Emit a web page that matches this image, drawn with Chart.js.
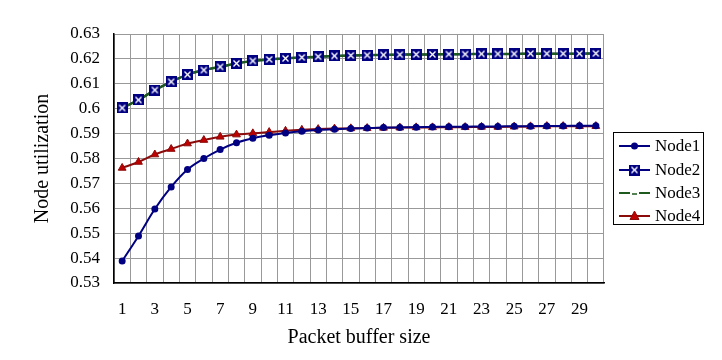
<!DOCTYPE html>
<html>
<head>
<meta charset="utf-8">
<script src="https://cdn.jsdelivr.net/npm/chart.js@4/dist/chart.umd.min.js"></script>
<style>
  html, body { margin: 0; padding: 0; background: #fff; }
  #wrap { width: 722px; height: 360px; position: relative; }
</style>
</head>
<body>
<div id="wrap"><canvas id="chart" width="722" height="360"></canvas></div>
<script>
// ---- data ----
const bufferSizes = Array.from({ length: 30 }, (_, i) => String(i + 1));

const node1 = [0.5388, 0.5489, 0.5597, 0.5686, 0.5756, 0.5800, 0.5836, 0.5863, 0.5881, 0.5893,
               0.5902, 0.5909, 0.5914, 0.5917, 0.5920, 0.5922, 0.5924, 0.5925, 0.5926, 0.5927,
               0.5928, 0.5928, 0.5929, 0.5929, 0.5930, 0.5930, 0.5931, 0.5931, 0.5932, 0.5932];
const node2 = [0.6003, 0.6035, 0.6075, 0.6108, 0.6137, 0.6155, 0.6168, 0.6182, 0.6192, 0.6198,
               0.6202, 0.6206, 0.6209, 0.6212, 0.6214, 0.6215, 0.6216, 0.6217, 0.6218, 0.6218,
               0.6219, 0.6219, 0.6220, 0.6220, 0.6220, 0.6221, 0.6221, 0.6221, 0.6221, 0.6222];
const node3 = [0.6003, 0.6035, 0.6075, 0.6108, 0.6137, 0.6155, 0.6168, 0.6182, 0.6192, 0.6198,
               0.6202, 0.6206, 0.6209, 0.6212, 0.6214, 0.6215, 0.6216, 0.6217, 0.6218, 0.6218,
               0.6219, 0.6219, 0.6220, 0.6220, 0.6220, 0.6221, 0.6221, 0.6221, 0.6221, 0.6222];
const node4 = [0.5762, 0.5786, 0.5816, 0.5838, 0.5860, 0.5874, 0.5887, 0.5896, 0.5901, 0.5906,
               0.5911, 0.5915, 0.5918, 0.5920, 0.5921, 0.5922, 0.5923, 0.5924, 0.5925, 0.5925,
               0.5926, 0.5926, 0.5927, 0.5927, 0.5928, 0.5929, 0.5930, 0.5930, 0.5930, 0.5930];

const yMin = 0.53, yMax = 0.63, yStep = 0.01;

const FONT = "'Liberation Serif', 'DejaVu Serif', serif";
const NAVY = "#000080";
const GREEN = "#1e5a1e";
const DARKRED = "#8b0a0a";
const RED = "#c00000";

// navy square with a white cross, like the Excel marker
function boxMarker(size) {
  const c = document.createElement("canvas");
  c.width = c.height = size;
  const g = c.getContext("2d");
  g.fillStyle = NAVY;
  g.fillRect(0, 0, size, size);
  g.strokeStyle = "#fff";
  g.lineWidth = 1.4;
  g.beginPath();
  g.moveTo(2.5, 2.5); g.lineTo(size - 2.5, size - 2.5);
  g.moveTo(size - 2.5, 2.5); g.lineTo(2.5, size - 2.5);
  g.stroke();
  return c;
}
const squareX = boxMarker(11);

// Node2 markers sit on top of the Node3 line
const redrawMarkers = {
  id: "redrawMarkers",
  afterDatasetsDraw(chart) {
    const meta = chart.getDatasetMeta(1);
    meta.data.forEach(pt => pt.draw(chart.ctx, chart.chartArea));
  },
};

// boxed legend at the right, like the original
const boxLegend = {
  id: "boxLegend",
  afterDraw(chart) {
    const ctx = chart.ctx;
    const x0 = 613, y0 = 132, w = 90, h = 92;
    ctx.save();
    ctx.strokeStyle = "#000";
    ctx.lineWidth = 1;
    ctx.strokeRect(x0 + 0.5, y0 + 0.5, w, h);
    const rows = [146, 170, 193, 216];
    chart.data.datasets.forEach((ds, i) => {
      const y = rows[i];
      ctx.strokeStyle = ds.borderColor;
      ctx.lineWidth = 2;
      if (i === 2) {
        ctx.beginPath();
        ctx.moveTo(619, y); ctx.lineTo(630, y);
        ctx.moveTo(639, y); ctx.lineTo(650, y);
        ctx.stroke();
        ctx.lineWidth = 1.5;
        ctx.beginPath();
        ctx.moveTo(632, y + 1); ctx.lineTo(637, y + 1);
        ctx.stroke();
      } else {
        ctx.beginPath();
        ctx.moveTo(619, y); ctx.lineTo(650, y);
        ctx.stroke();
      }
      const cx = 634.5;
      if (i === 0) {
        ctx.fillStyle = NAVY;
        ctx.beginPath(); ctx.arc(cx, y, 3.5, 0, Math.PI * 2); ctx.fill();
      } else if (i === 1) {
        ctx.drawImage(squareX, cx - 5.5, y - 5.5);
      } else if (i === 3) {
        ctx.fillStyle = RED;
        ctx.strokeStyle = DARKRED;
        ctx.lineWidth = 1;
        ctx.beginPath();
        ctx.moveTo(cx, y - 5); ctx.lineTo(cx + 4.5, y + 3.5); ctx.lineTo(cx - 4.5, y + 3.5);
        ctx.closePath(); ctx.fill(); ctx.stroke();
      }
      ctx.fillStyle = "#000";
      ctx.font = "17px " + FONT;
      ctx.textBaseline = "middle";
      ctx.textAlign = "left";
      ctx.fillText(ds.label, 655, y + 1);
    });
    ctx.restore();
  },
};

new Chart(document.getElementById("chart"), {
  type: "line",
  data: {
    labels: bufferSizes,
    datasets: [
      {
        label: "Node1", data: node1, order: 0, borderColor: NAVY, backgroundColor: NAVY,
        borderWidth: 2, pointStyle: "circle", pointRadius: 3.5, pointBorderWidth: 0,
        tension: 0.3, cubicInterpolationMode: "monotone",
      },
      {
        label: "Node2", data: node2, order: 2, borderColor: NAVY, backgroundColor: NAVY,
        borderWidth: 2, pointStyle: squareX, pointRadius: 5.5,
        tension: 0.3, cubicInterpolationMode: "monotone",
      },
      {
        label: "Node3", data: node3, order: 1, borderColor: GREEN, backgroundColor: GREEN,
        borderWidth: 2.5, pointRadius: 0,
        tension: 0.3, cubicInterpolationMode: "monotone",
      },
      {
        label: "Node4", data: node4, order: 3, borderColor: DARKRED, backgroundColor: RED,
        borderWidth: 2, pointStyle: "triangle", pointRadius: 4.5, pointBorderWidth: 1,
        pointBorderColor: DARKRED,
        tension: 0.3, cubicInterpolationMode: "monotone",
      },
    ],
  },
  options: {
    responsive: false,
    animation: false,
    layout: { padding: { left: 0, right: 118, top: 34, bottom: 0 } },
    plugins: {
      legend: { display: false },
      tooltip: { enabled: false },
    },
    scales: {
      x: {
        offset: true,
        grid: { offset: true, color: "#999", drawTicks: false },
        border: { color: "#000", width: 1.5 },
        ticks: {
          autoSkip: false, maxRotation: 0, padding: 16, color: "#000",
          font: { family: FONT, size: 17 },
          callback(v, i) { return i % 2 === 0 ? bufferSizes[i] : ""; },
        },
        title: {
          display: true, text: "Packet buffer size", color: "#000",
          font: { family: FONT, size: 20 }, padding: { top: 0, bottom: 10 },
        },
        afterFit(scale) { scale.height = 77; },
      },
      y: {
        min: yMin, max: yMax,
        grid: { color: "#999", drawTicks: false },
        border: { color: "#000", width: 1.5 },
        ticks: {
          stepSize: yStep, padding: 14, color: "#000",
          font: { family: FONT, size: 17 },
          callback(v) { return String(parseFloat(v.toFixed(2))); },
        },
        title: {
          display: true, text: "Node utilization", color: "#000",
          font: { family: FONT, size: 20 }, padding: { top: 31, bottom: 0 },
        },
        afterFit(scale) { scale.width = 114; },
      },
    },
  },
  plugins: [redrawMarkers, boxLegend],
});
</script>
</body>
</html>
